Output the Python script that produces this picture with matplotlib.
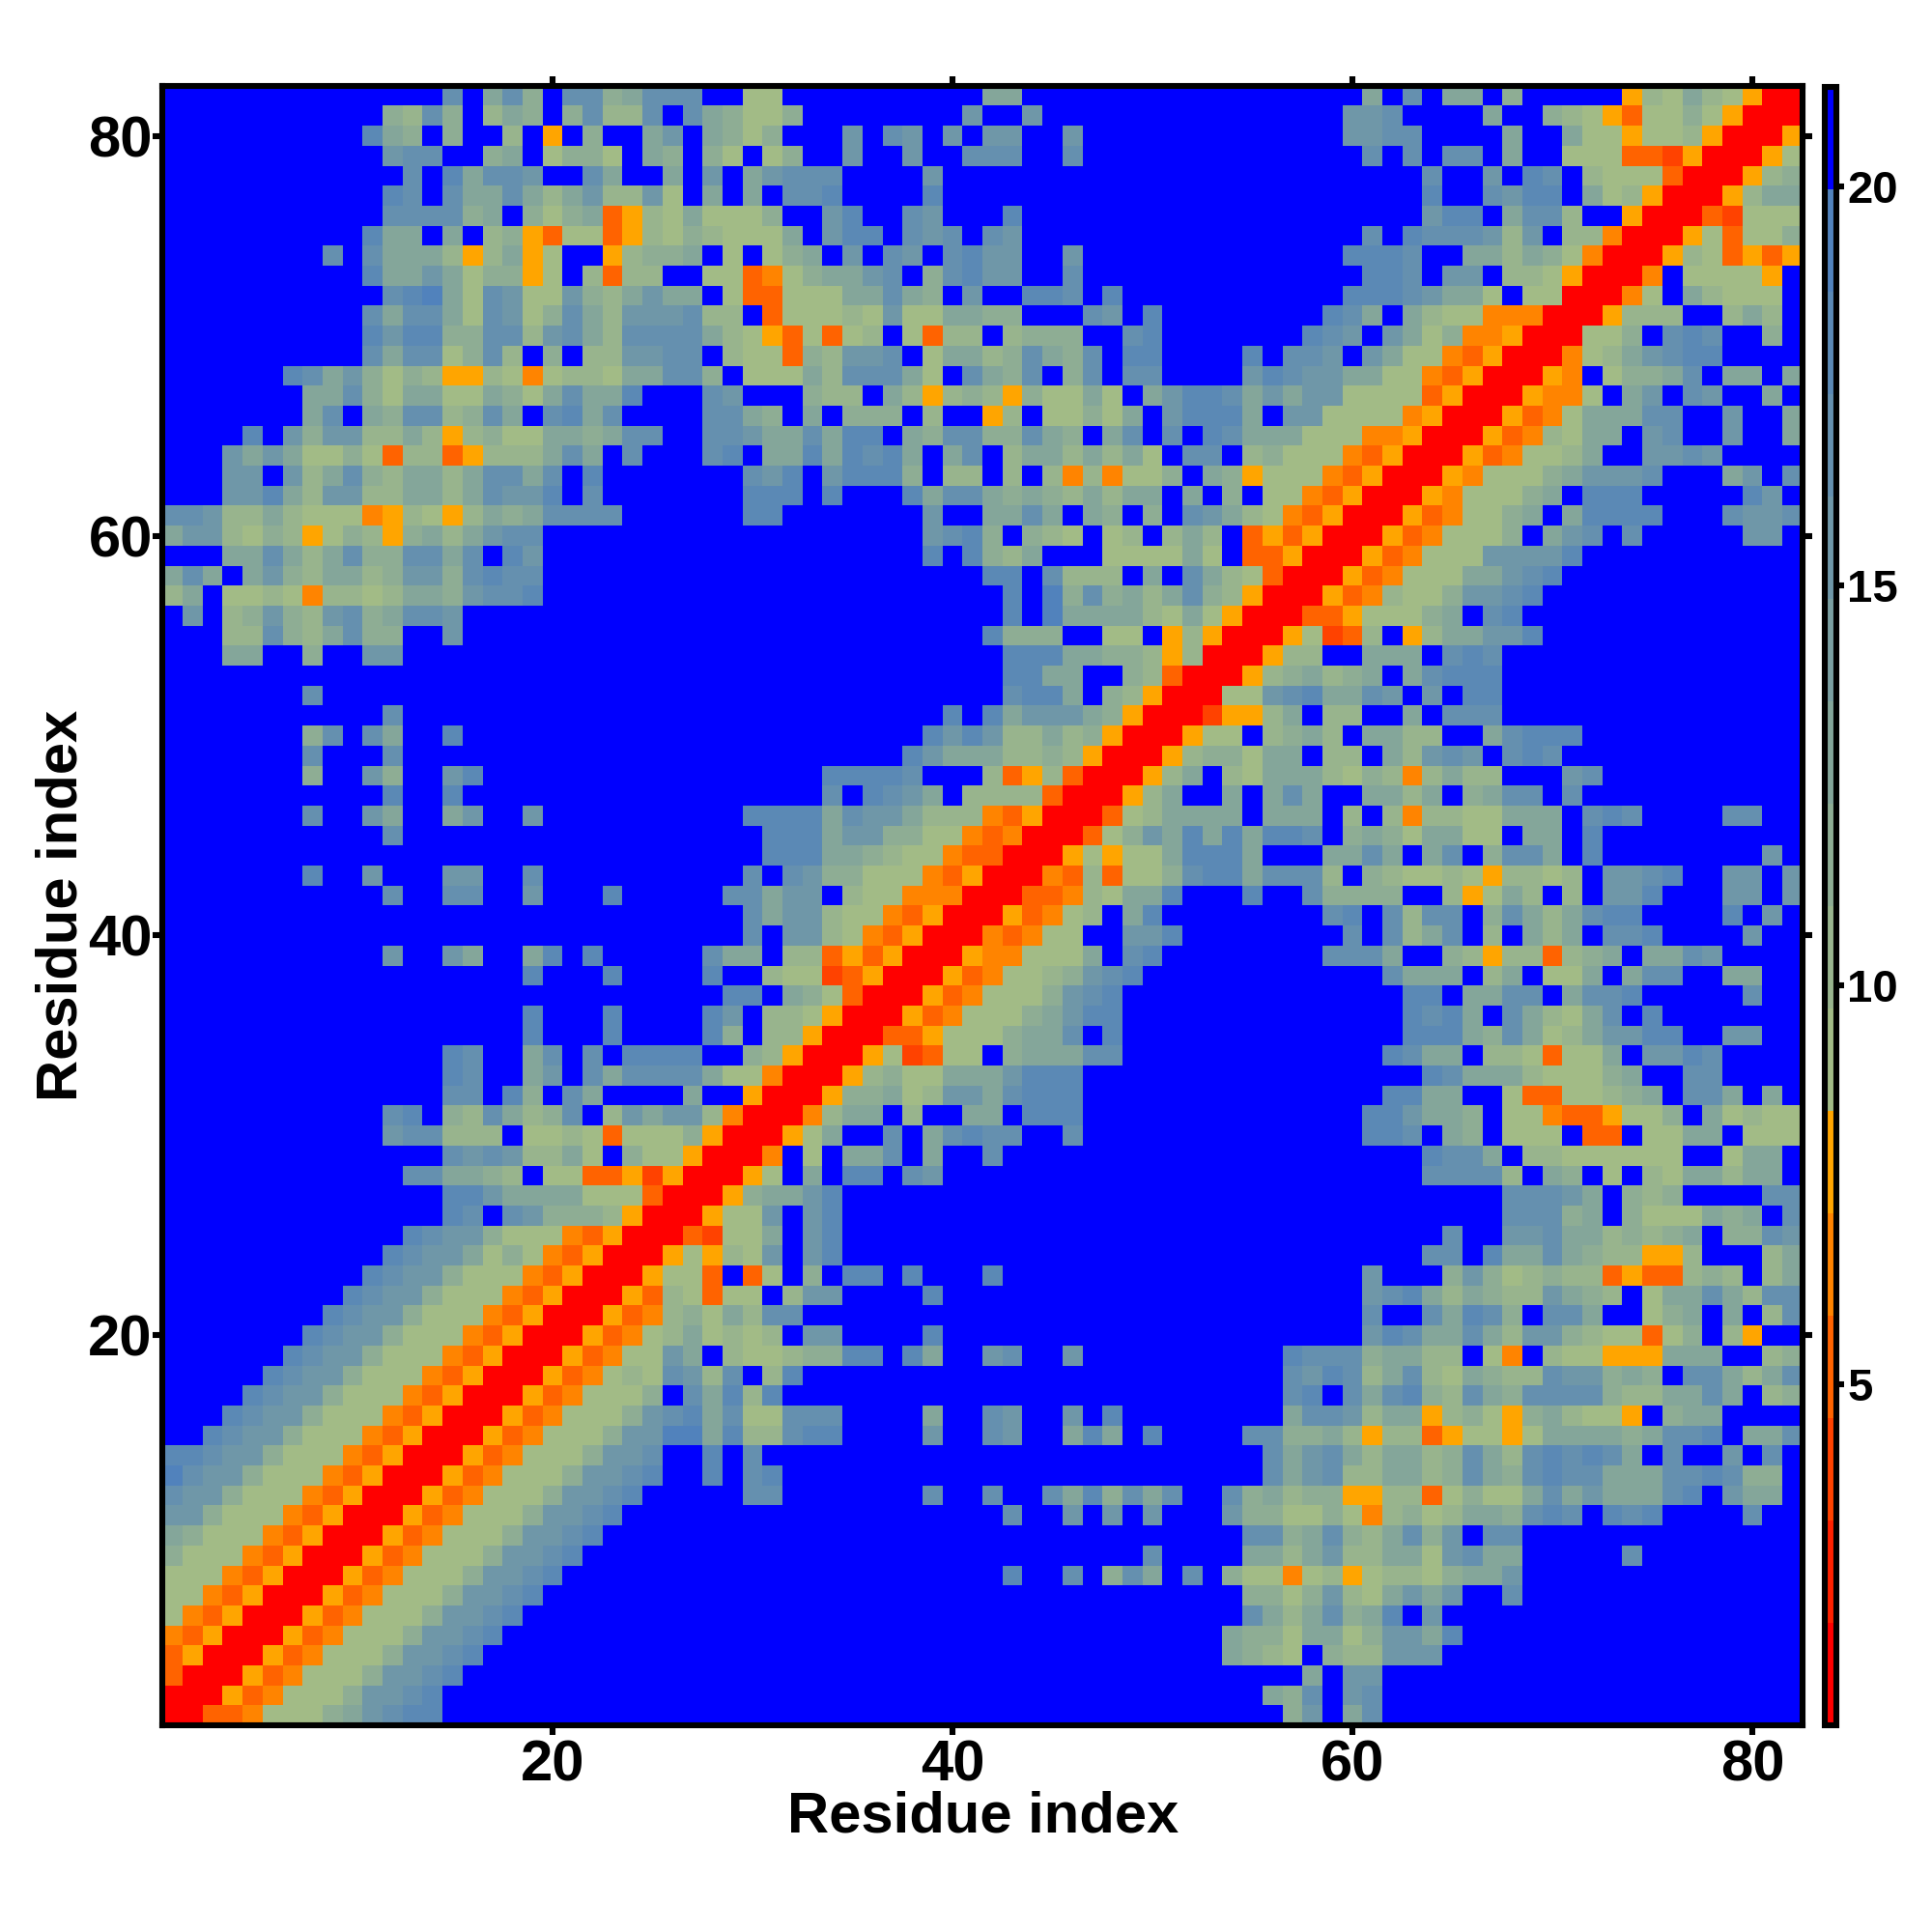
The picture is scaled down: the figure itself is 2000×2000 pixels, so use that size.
#!/usr/bin/env python
import re
import numpy as np
import matplotlib
matplotlib.use("Agg")
import matplotlib.pyplot as plt
from matplotlib.colors import ListedColormap, BoundaryNorm, to_rgb

# one string per row, top row (residue 82) first. each char is the colour class read off
# the picture, 0 = red ... f = blue. xN. means N times f
rows = [
"x14.cfac9fcc9acccf f77x10.aax12. x5.afcfaaf9x5.587a87500",
"x11.98c9f8a9f9c88cfca 9779x8.bffbx11. ffffbbcffffaff9875377975000",
"x10.da9f9ff8f5f9ffabfa 979fffbfcbfbfbbffbx9. ffffbbccffffaffa77577850005",
"x11.bccff9af7997fa9f9 7f79ffbffbffcccffcx9. x5.cfcfccfaff777332500057",
"x12.cfdaccbffcaffafb fabcccffffbx16. x8.cffbfdcf87773000589",
"x11.dcfcaaca8ab88b7fa fafccdffffdx16. x8.dffcbddfa78500058aa",
"x11.cccc9af979a3587a7 779ffbdffcbfffdx12. x8.bddfacc8ff500032777",
"x10.daafaf895377358798 777afbddfcbcfcbx12. x5.cfdcccb8bf884000573779",
"x8.cfcaaa858a57ff5899af 7f79afbfcbfcdbbffbx9. ffffdddcffaa8a9740005873535",
"x10.daaba79957f8388ff7 73479aabcf9cdbbffcx9. x5.ddcfbbf88750004f77775f",
"x11.cdea7cb77b98abaaf 733777aaca9fbffddcfdx7. ffffdddcbaa7f7700047fa8777f",
"x10.cacca7cb79ca8bbbc8 8f377787b77aa99fffcbfdx5. fffdcafa8774440005888ff8a8f",
"x10.dbdd99cc8bca8cccca 87537378f7388f8999ffcdx5. ffdcbfba79445000779fcdcff9f",
"x10.cacc79c8f9f88bbccf 877398bbcf7aa89ca9cfddffffd fccbfba77435000478abcddffff",
"x6.dcab9798558747887aacc9 f777a8ccca7fca9cf9cfccffffb dcbbaa7743500054f799acfaafa",
"x7.aac97aa77a97acaadfffc bfff988fa858985977a7fabddca babb7777350005447fabfcbffaf",
"x7.acfa9cc89cafcdacffffc ca9faf999f8ff58f7797afbddda fbb7777450005347aaaccffbffa",
"ffffdfb9bb88a858977aa9accffc cbaacaddfa9cc99ca9facfcfdca aa77744500053487aafbcffbffa",
"fffbaba779738835888acafcfffc dfaadadcdafacf8aa8a8a7fccf8 9777435000534778affbbcbffff",
"fffbbfb8ac98aa8accacfdx6. fcbdfbddd9f88f8f8484779fa95 777435000547779abbbcfffabfc",
"fffbbda8bb88aa8acbbdfcx6. fdddfdfffdacca9a98a8aafaf9f 77435000547779afdddfffffdbf",
"ccb88a8777458758a9accccfffff fddx7.bffaacafa9f9fcba8 7435000534779afaddddfffcbbc",
"abb8798579859a8abccx9. x10.bcd9f987f78f8a8f3 5350005347779fabcfcfffffbbf",
"fffaaca8ac99ccacfdbx9. x10.dfd98afff7777a7f3 35000534777bbbbdx11.",
"acafab98aa89bb9cdccx9. x13.ddfc888fafca87 3000534777aabcdx12.",
"8af778748878aa9bccdx9. x14.dfe9c9a8ac985 0005348779bbcdx13.",
"fbf89b98bc9accbx13. x14.dfeaaaa87a750 003357779afcdx14.",
"fff88c98ac99ffbx13. x13.d999ff77f58500 057238f58aabbdx13.",
"fffaaff9ffbbx16. x14.dddaa99858000 588ffaaafcdcx15.",
"x28. x14.ddaaff9830005 89a89afacdddx15.",
"x7.cx20. x14.cddaf98500077 bcdaacbfbfddx15.",
"x11.cx16. x11.dfdabbba95000255 8af88ffafcccx15.",
"x7.9cfcaffdx13. x10.dbdb88a895000577f 89a8faa88ffacdddx11.",
"x7.cfffcx16. x9.dbaaa8898500058997 aaf88fa8bcbfcdcx12.",
"x7.9ffb9ffbdx12. x5.ddddcfff8358300058af87 aaa879848a88fffbcx10.",
"x11.dffdx13. x5.cfdcbaf8888300058affaf acaffaa8af9accfcx11.",
"x7.cffbaffabffbx9. fddddacbba888435000378aaaaf aaaf8f848877aaafcdcffffccff",
"x11.cx16. ffdddabb9977434000379badada ddcf9a97aa77faafdx10.",
"x28. ffdddaa987743300057577addda fffaacafacf9ccafdx8.bf",
"x7.dffbfffbbffcx9. fcfcb997774350004383779cdda ccc8f98778758878fbbcdffbbfb",
"x11.cffccffbfffdx5. ccabbf87744400033487aadfffd ffc9999ff857a8f8fbbdfffbbfb",
"x28. fcabb87743500053478fadx5. fffcdfc8ccf9ca8acddffffdfbf",
"x28. fcfbb8743500043477ffbbdffff ffffcfc8acf8fa8afccdffffbff",
"x11.bffbaffadfdx5.c aaf883535000544777afcdx5. fffcccaff98588389afaacbffff",
"x18.dfffdffffd ff8772350005347789bcdx6. x6.caaaf8af77afaccffaaff",
"x28. ddfa9730005347779bcdx7. x7.ddfaaccfaccdx5.cff",
"x18.dfffdffffd bf88750005347779abddx7. x7.dcdafca87acfdx7.",
"x18.dfffdffffd 9f8850003357779aacfdx7. x7.ddda9ca78abbddffbbff",
"x14.dcffacfcfddddf f985000572377f9aaaccx7. x6.dcaaf887377afbbdcffff",
"x14.dcffabfcacccca 77400058977aaabdddx9. x8.dcaaa87779affccffff",
"x14.ccfd9fcaffffaf f5000599a78bbacdddx9. x6.ddaaff7337789afccafaf",
"x11.cdf98ca89cf8babb8 400048aaf8ffaafdddx9. x5.ddbaa9f774335779fa7877",
"x11.bcc888f7787377795 00057affcfacdccffcx9. x5.ddcfa9f777f33f77aaf777",
"x14.cbcb88a7f97750 004f7faacfaffcx13. x8.dccaf88777777ff7aaf",
"x12.ccaa98f773352500 057fafddfcbx16. x8.cccc8fa9f7f87aa8aaf",
"x14.ddbaaaa7773000 59aabdx21. x12.cccbaf989ffffcc",
"x14.dcfcb999850005 77bfbdx21. x12.ccc9af9777a9afc",
"x12.dcbb977743500032 77afbdx21. x9.cffbbcaa8989af99cb",
"x11.dcbba797435000575 87bfbdx21. x8.ccfdaaca988558fff8a",
"x10.dcbb97774350005773 f37f9fddfdfffdx13. x5.bfff9b9789883533898f8a",
"x9.dcbb977743500053873 77f8bbffffdx16. x5.bcda8a988ba98f7aaca8cc",
"x8.dcbb9777435000534897 a8ccx23. x5.cffcadc9fccaff79afaf8c",
"x7.dcbb977743500053478a7 878fbbffffdx16. x5.bdcaaca8bb9877379f85ff",
"x6.dcbb977743500053477baf 867899ddfdaffbcffbx9. fdccc9aa88f74f877555aaaff89",
"x5.dcbb9777435000534787cb8 cf8dx23. fcbdc8ac87a988cbb9a9fcca8ac",
"ffffdcbb97774350005347779fca d8dx24. fcdfcacd98ca9cccc988aacaf89",
"fffdcbb97774350005347779bcda c77cccffffaffcbffbfdx7. faccb8aa589759a8775f9aaffff",
"ffdcbb97774350005347779bbeea d88cddffffbffcbffadafdffffc c99a8588357757aaaa9accdfaac",
"ddcbb97774350005347779bbcffd fcx25. cabca8aa89ca8cdcdcafcffbfcf",
"ecbb97774350005347779bbcdffd fcdx24. cabc88aa89ca9cdccaaaccdc99f",
"cbb97774350005347779bbcdffff fccx7.cffcffcad9cacffc9 a899558837977acabaaacdfbaaf",
"bb97774350005347779bbcdx5. x14.cffbfbfbfffb9 9779748978aa9cdcfdcdffffcff",
"a97774350005347779bbcdx6. x26.c c9ac98ac9bfccx14.",
"97774350005347779bbcdx7. x21.cffffa a8ab88aa7bcaax5.cx8.",
"7774350005347779bbcdx8. x14.dffcf9cafcf97 7478578879aabx14.",
"774350005347779bbcdx9. x26.9 979b87ababffcx14.",
"74350005347779bbcdx10. x26.c a8ac9adfbx18.",
"4350005347779bbcdx11. x25.a9 97aa79bbadx17.",
"350005347779bbcdx12. x25.a9 87f988bbbx18.",
"30005347779bbcdx13. x27. ffafbbx21.",
"0005347779bbcdx14. x27. a9cfbcx21.",
"003347779abcddx14. x27. f9bfacx21.",
]

tick_vals = [20, 40, 60, 80]
bar_ticks = [5, 10, 15, 20]
levels = 0.73 + 1.282 * np.arange(17)

warm = ["#ff0000", "#ff2100", "#ff4200", "#ff6300", "#ff8400", "#ffa500"]
light = np.array(to_rgb("#a2bb86"))
steel = np.array(to_rgb("#5182bc"))
cool = [tuple(light + (steel - light) * i / 8) for i in range(9)]
cmap = ListedColormap(warm + cool + ["#0000ff"])
norm = BoundaryNorm(levels, 16)

# my reading codes -> colour class on the bar
code_band = {"7": 6, "8": 7, "9": 8, "a": 9, "b": 11, "c": 12, "d": 13, "e": 14}

z = np.zeros((82, 82))
bad = []
for n, row in enumerate(rows):
    parts = [re.sub(r"x(\d+)\.", lambda m: "f" * int(m.group(1)), p) for p in row.split()]
    if [len(p) for p in parts] != [28, 27, 27]:
        bad.append((82 - n, [len(p) for p in parts]))
        continue
    for k, c in enumerate("".join(parts)):
        band = code_band.get(c, int(c, 16))
        z[81 - n, k] = (levels[band] + levels[band + 1]) / 2
if bad or len(rows) != 82:
    raise SystemExit("bad rows %s, %d rows" % (bad, len(rows)))

plt.rcParams["font.family"] = ["Liberation Sans", "DejaVu Sans"]
plt.rcParams["font.weight"] = "bold"

W = 2000.0
fig = plt.figure(figsize=(10, 10), dpi=200)
ax = fig.add_axes([168.4 / W, 1 - 1786.1 / W, (1865.7 - 168.4) / W, (1786.1 - 88.8) / W])
edges = np.arange(83) + 0.5
mesh = ax.pcolormesh(edges, edges, z, cmap=cmap, norm=norm, linewidth=0, rasterized=True)
ax.set_xlim(0.5, 82.5)
ax.set_ylim(0.5, 82.5)
ax.set_xticks(tick_vals)
ax.set_yticks(tick_vals)
ax.tick_params(top=True, right=True, direction="out", length=3.6, width=2.2, labelsize=21.5)
ax.tick_params(axis="x", pad=1.7)
ax.tick_params(axis="y", pad=0.2)
for sp in ax.spines.values():
    sp.set_linewidth(2.2)
for t in ax.xaxis.get_ticklines() + ax.yaxis.get_ticklines():
    t.set_solid_capstyle("round")
ax.set_xlabel("Residue index", fontsize=21.5, fontweight="bold", va="center")
ax.set_ylabel("Residue index", fontsize=21.5, fontweight="bold", va="center")
ax.xaxis.set_label_coords(0.5005, (1786.1 - 1881) / 1697.3)
ax.yaxis.set_label_coords((64 - 168.4) / 1697.3, 0.5)

cax = fig.add_axes([1889 / W, 1 - 1786.1 / W, 12 / W, (1786.1 - 90) / W])
cb = fig.colorbar(mesh, cax=cax, ticks=bar_ticks, spacing="proportional", drawedges=False)
cb.outline.set_linewidth(2.2)
cb.ax.minorticks_off()
cb.ax.tick_params(direction="out", length=3, width=2.2, labelsize=17, pad=1)
for t in cb.ax.yaxis.get_ticklines():
    t.set_solid_capstyle("round")

fig.savefig("out.png", dpi=200, facecolor="white")
